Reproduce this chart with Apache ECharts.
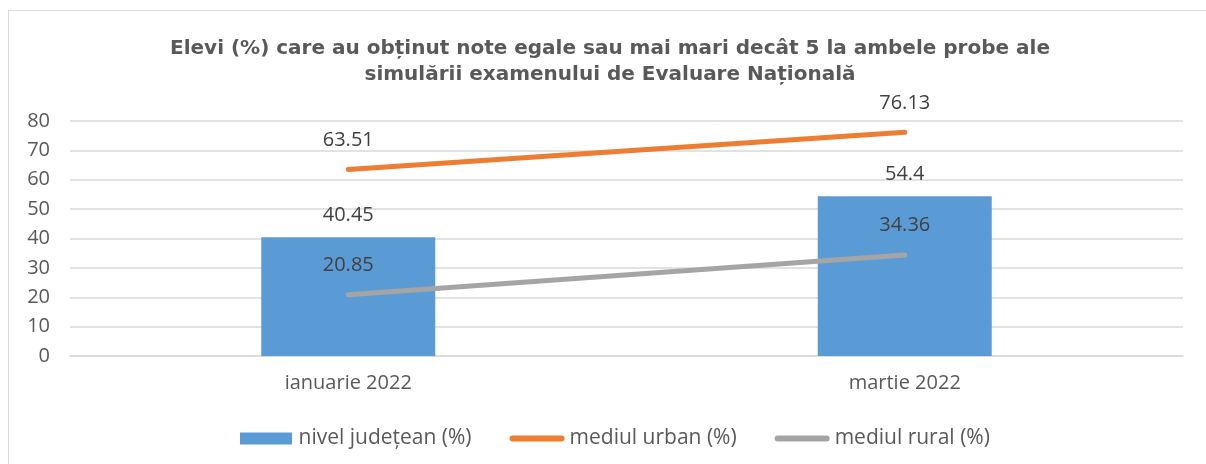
<!DOCTYPE html>
<html lang="ro">
<head>
    <meta charset="UTF-8">
    <title>Evaluare Națională - simulare</title>
    <script src="https://cdn.jsdelivr.net/npm/echarts@6/dist/echarts.min.js"></script>
    <style>
        html, body { margin: 0; padding: 0; background: #fff; }
        #frame { position: absolute; left: 8px; top: 10px; width: 1210px; height: 470px;
                 border: 1.5px solid #d9d9d9; box-sizing: border-box; }
        #main { position: absolute; left: 0; top: 0; width: 1206px; height: 464px; }
    </style>
</head>
<body>
<div id="frame"></div>
<div id="main"></div>

<script type="text/javascript">
    // date
    var luni = ['ianuarie 2022', 'martie 2022'];
    var nivelJudetean = [40.45, 54.4];
    var mediulUrban = [63.51, 76.13];
    var mediulRural = [20.85, 34.36];

    var font = 'Open Sans';
    var chartDom = document.getElementById('main');
    var myChart = echarts.init(chartDom);
    var option;

    // eticheta de valoare comuna
    function eticheta(dist) {
        return {
            show: true,
            position: 'top',
            distance: dist,
            fontSize: 20,
            color: '#404040',
            fontFamily: font
        };
    }

    var liniuta = 'path://M3,0 H53 A3,3 0 0 1 53,6 H3 A3,3 0 0 1 3,0 Z';

    option = {
        backgroundColor: 'transparent',
        textStyle: { fontFamily: font },
        title: {
            text: 'Elevi (%) care au obținut note egale sau mai mari decât 5 la ambele probe ale\nsimulării examenului de Evaluare Națională',
            left: 605,
            textAlign: 'center',
            top: 31,
            textStyle: {
                fontFamily: 'DejaVu Sans',
                fontSize: 20,
                fontWeight: 'bold',
                color: '#595959',
                lineHeight: 26
            }
        },
        legend: {
            top: 423,
            left: 235,
            itemWidth: 55,
            itemHeight: 12,
            itemGap: 38,
            textStyle: { fontSize: 21, color: '#595959', fontFamily: font },
            data: [
                { name: 'nivel județean (%)', icon: 'path://M0,0 H52 V12 H0 Z',
                  itemStyle: { color: '#5b9bd5' } },
                { name: 'mediul urban (%)', icon: liniuta,
                  itemStyle: { color: '#ed7d31' } },
                { name: 'mediul rural (%)', icon: liniuta,
                  itemStyle: { color: '#a5a5a5' } }
            ]
        },
        grid: {
            left: 70,
            right: 23,
            top: 121,
            bottom: 108
        },
        xAxis: {
            type: 'category',
            data: luni,
            axisLine: { show: true, lineStyle: { color: '#d9d9d9', width: 1.5 } },
            axisTick: { show: false },
            axisLabel: { fontSize: 20, color: '#595959', margin: 17, fontFamily: font }
        },
        yAxis: {
            type: 'value',
            min: 0,
            max: 80,
            interval: 10,
            axisLine: { show: false },
            axisTick: { show: false },
            splitLine: { lineStyle: { color: '#d9d9d9', width: 1.5 } },
            axisLabel: { fontSize: 20, color: '#595959', margin: 20, fontFamily: font }
        },
        series: [
            {
                name: 'nivel județean (%)',
                type: 'bar',
                data: nivelJudetean,
                barWidth: 174,
                itemStyle: { color: '#5b9bd5' },
                label: eticheta(12)
            },
            {
                name: 'mediul urban (%)',
                type: 'line',
                data: mediulUrban,
                symbol: 'circle',
                symbolSize: 1,
                showSymbol: true,
                lineStyle: { color: '#ed7d31', width: 5, cap: 'round' },
                itemStyle: { color: 'rgba(0,0,0,0)' },
                label: eticheta(19)
            },
            {
                name: 'mediul rural (%)',
                type: 'line',
                data: mediulRural,
                symbol: 'circle',
                symbolSize: 1,
                showSymbol: true,
                lineStyle: { color: '#a5a5a5', width: 5, cap: 'round' },
                itemStyle: { color: 'rgba(0,0,0,0)' },
                label: eticheta(19)
            }
        ]
    };

    option && myChart.setOption(option);
</script>
</body>
</html>
